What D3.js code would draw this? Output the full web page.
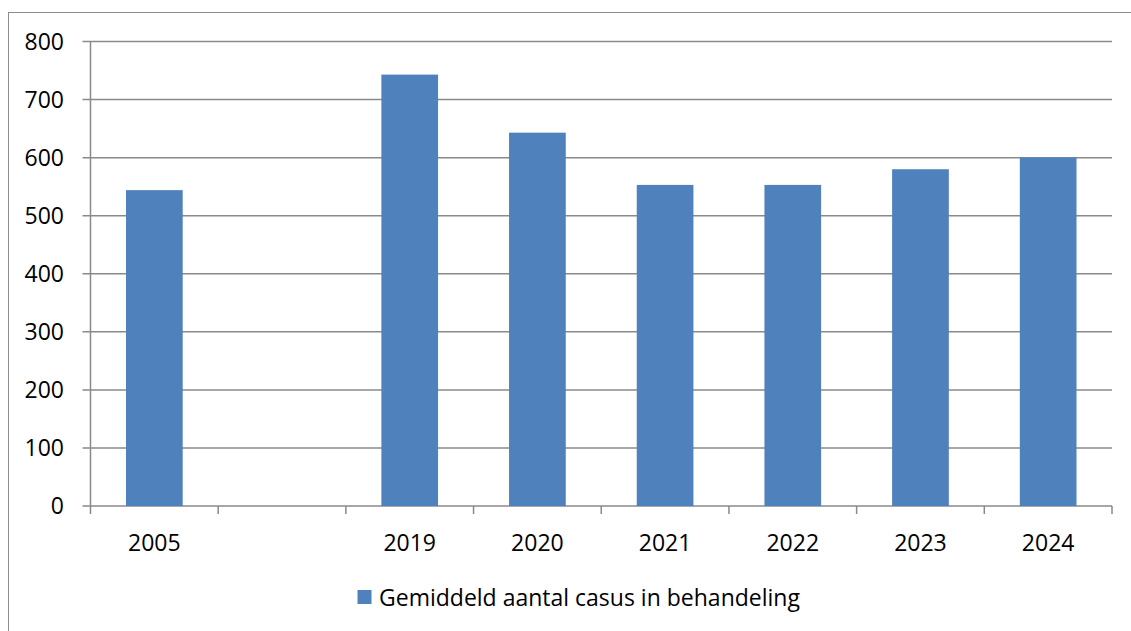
<!DOCTYPE html>
<html><head><meta charset="utf-8">
<script src="https://cdn.jsdelivr.net/npm/d3@7"></script>
<style>body{margin:0;background:#fff}svg{display:block}text{font-family:"Open Sans",sans-serif;fill:#000}</style>
</head><body><svg id="c" width="1131" height="631"></svg>
<script>
const categories = ["2005", "", "2019", "2020", "2021", "2022", "2023", "2024"];
const values = [544, null, 743, 643, 553, 553, 580, 600];
const yTicks = [0, 100, 200, 300, 400, 500, 600, 700, 800];
const seriesName = "Gemiddeld aantal casus in behandeling";

const svg = d3.select("#c");
const L = 90.5, R = 1112, T = 41.5, B = 506;
svg.append("rect").attr("x", 8.5).attr("y", 12.5).attr("width", 1140).attr("height", 640)
  .attr("fill", "none").attr("stroke", "#8c8c8c").attr("stroke-width", 1);

const x = d3.scaleBand().domain(d3.range(categories.length)).range([L, R]).paddingInner(0.556).paddingOuter(0.278);
const xb = d3.scaleBand().domain(d3.range(categories.length)).range([L, R]);
const y = d3.scaleLinear().domain([0, 800]).range([B, T]);

const FS = 23;
// gridlines
svg.append("g").selectAll("line").data(yTicks).join("line")
  .attr("x1", L - 8).attr("x2", R).attr("y1", d => y(d)).attr("y2", d => y(d))
  .attr("stroke", "#8a8a8a").attr("stroke-width", 1.5);
// y labels
svg.append("g").selectAll("text").data(yTicks).join("text")
  .attr("x", 64).attr("y", d => y(d)).attr("dy", "0.36em").attr("text-anchor", "end")
  .attr("font-size", FS).text(d => d);
// y axis line
svg.append("line").attr("x1", L).attr("x2", L).attr("y1", T).attr("y2", B)
  .attr("stroke", "#8a8a8a").attr("stroke-width", 1.5);
// x ticks
const bounds = d3.range(categories.length + 1).map(i => i < categories.length ? xb(i) : R);
svg.append("g").selectAll("line").data(bounds).join("line")
  .attr("x1", d => d).attr("x2", d => d).attr("y1", B).attr("y2", B + 8)
  .attr("stroke", "#8a8a8a").attr("stroke-width", 1.5);
// bars
svg.append("g").selectAll("rect").data(values.map((v, i) => ({v, i})).filter(d => d.v != null)).join("rect")
  .attr("x", d => x(d.i)).attr("width", x.bandwidth())
  .attr("y", d => y(d.v)).attr("height", d => y(0) - y(d.v))
  .attr("fill", "#4f81bd");
// x labels
svg.append("g").selectAll("text").data(categories).join("text")
  .attr("x", (d, i) => xb(i) + xb.bandwidth() / 2).attr("y", 551).attr("text-anchor", "middle")
  .attr("font-size", FS).text(d => d);
// legend
svg.append("rect").attr("x", 357.5).attr("y", 590).attr("width", 14).attr("height", 14).attr("fill", "#4f81bd");
svg.append("text").attr("x", 379).attr("y", 606).attr("font-size", FS).text(seriesName);
</script></body></html>
